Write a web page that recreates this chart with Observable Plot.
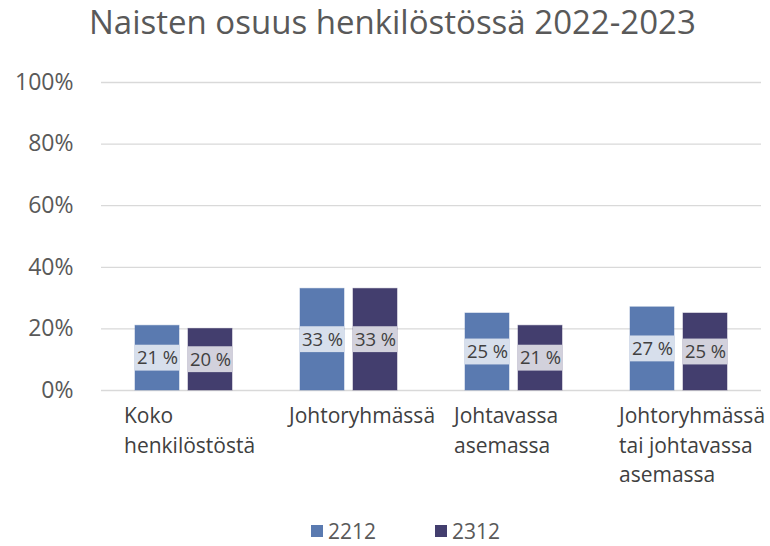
<!DOCTYPE html>
<html><head><meta charset="utf-8">
<script src="https://cdn.jsdelivr.net/npm/d3@7"></script>
<script src="https://cdn.jsdelivr.net/npm/@observablehq/plot@0.6"></script>
<style>
body{margin:0;background:#fff;font-family:"Open Sans",sans-serif;}
#wrap{position:relative;width:770px;height:546px;overflow:hidden;background:#fff;}
#title{position:absolute;left:89px;top:-8px;font-size:33px;line-height:60px;color:#595959;white-space:nowrap;}
#chart{position:absolute;left:0;top:58px;}
.leg{position:absolute;top:517px;font-size:21px;line-height:28px;color:#595959;display:flex;align-items:center;}
.sw{width:12px;height:12px;margin-right:5px;display:inline-block;}
</style></head>
<body>
<div id="wrap">
<div id="title">Naisten osuus henkilöstössä 2022-2023</div>
<div id="chart"></div>
<div id="legend"></div>
</div>
<script>
const categories = ["Koko\nhenkilöstöstä", "Johtoryhmässä", "Johtavassa\nasemassa", "Johtoryhmässä\ntai johtavassa\nasemassa"];
const series = ["2212", "2312"];
const values2212 = [21, 33, 25, 27];
const values2312 = [20, 33, 21, 25];
const yTicks = [0, 20, 40, 60, 80, 100];
const colors = ["#5a7ab0", "#433e6e"];

const data = categories.flatMap((c, i) => [
  {cat: c, series: series[0], value: values2212[i]},
  {cat: c, series: series[1], value: values2312[i]}
]);

const chart = Plot.plot({
  width: 770, height: 440,
  marginLeft: 100, marginRight: 8, marginTop: 24, marginBottom: 108,
  style: {fontFamily: "'Open Sans', sans-serif", background: "transparent"},
  fx: {domain: categories, padding: 0, label: null},
  x: {domain: series, paddingInner: 0.167, paddingOuter: 0.616, axis: null},
  y: {domain: [0, 100], axis: null},
  color: {domain: series, range: colors},
  marks: [
    Plot.ruleY(yTicks, {stroke: "#d9d9d9", strokeWidth: 1.3}),
    Plot.axisY(yTicks, {tickFormat: d => d + "%", tickSize: 0, tickPadding: 28, fontSize: 23, fill: "#595959", label: null}),
    Plot.barY(data, {fx: "cat", x: "series", y: "value", fill: "series", stroke: "series", strokeOpacity: 0.5}),
    Plot.barY(data, {fx: "cat", x: "series", y1: d => d.value / 2 - 4.2, y2: d => d.value / 2 + 4.2, fill: "white", fillOpacity: 0.76}),
    Plot.text(data, {fx: "cat", x: "series", y: d => d.value / 2, text: d => d.value + " %", fontSize: 18.5, fill: "#404040"}),
    Plot.axisFx({anchor: "bottom", tickSize: 0, tickPadding: 12, textAnchor: "start", dx: -60, lineHeight: 1.4, fontSize: 21, fill: "#404040", label: null})
  ]
});
document.getElementById("chart").appendChild(chart);

const legend = document.getElementById("legend");
const legLeft = [311, 435];
series.forEach((s, i) => {
  const d = document.createElement("div");
  d.className = "leg";
  d.style.left = legLeft[i] + "px";
  d.innerHTML = `<span class="sw" style="background:${colors[i]}"></span>${s}`;
  legend.appendChild(d);
});
</script>
</body></html>
